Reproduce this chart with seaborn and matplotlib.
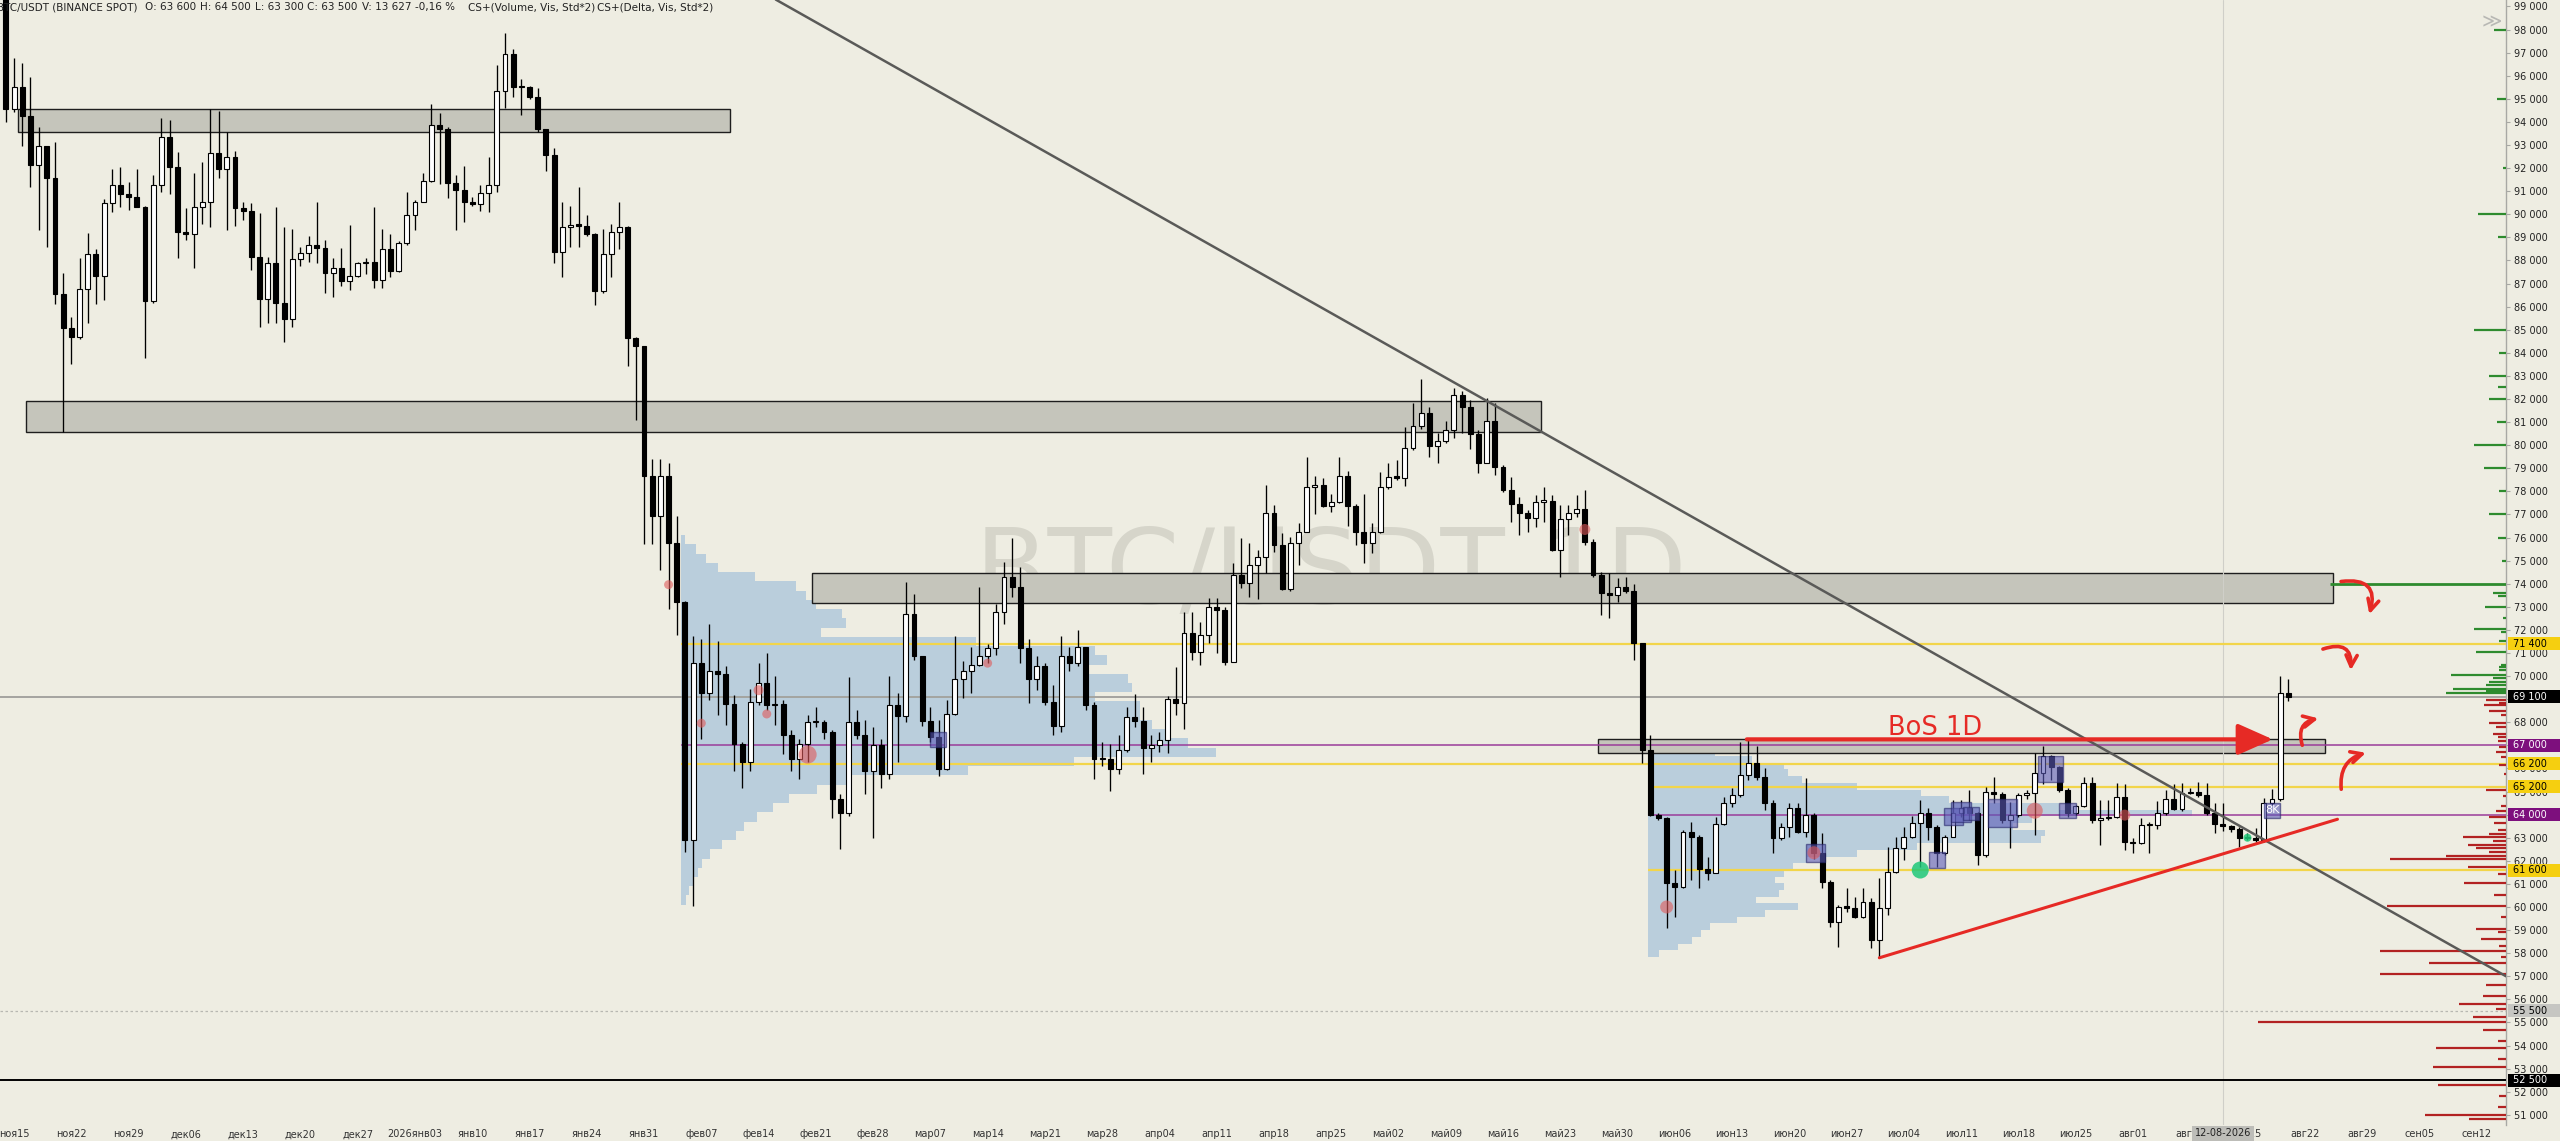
import matplotlib
matplotlib.use("Agg")
import matplotlib.pyplot as plt
import matplotlib.transforms as mtransforms
from matplotlib.patches import Rectangle, FancyArrowPatch
import numpy as np
import pandas as pd
import seaborn as sns

# ---------------------------------------------------------------------------
# Data: BTC/USDT daily candles, prices in thousands of USDT.
# Opens equal the previous close (24/7 market), only the first one is given.
# ---------------------------------------------------------------------------
start_date = "2025-11-14"
first_open = 100.3

close_k = [
    94.55, 95.53, 94.26, 92.13, 92.96, 91.56, 86.55, 85.06, 84.67, 86.75,
    88.28, 87.33, 90.47, 91.27, 90.86, 90.74, 90.33, 86.26, 91.27, 93.36,
    92.06, 89.25, 89.13, 90.33, 90.55, 92.67, 91.95, 92.47, 90.26, 90.14,
    88.14, 86.33, 87.87, 86.15, 85.45, 88.05, 88.34, 88.67, 88.53, 87.44,
    87.66, 87.12, 87.33, 87.87, 87.95, 87.15, 88.48, 87.56, 88.74, 89.97,
    90.55, 91.46, 93.87, 93.68, 91.34, 91.05, 90.52, 90.46, 90.94, 91.27,
    95.35, 96.94, 95.53, 95.50, 95.07, 93.68, 92.57, 88.35, 89.46, 89.54,
    89.50, 89.15, 86.68, 88.28, 89.25, 89.45, 84.66, 84.28, 78.68, 76.94,
    78.68, 75.77, 73.20, 62.90, 70.56, 69.28, 70.24, 70.07, 68.79, 67.05,
    66.30, 68.86, 69.70, 68.75, 68.80, 67.47, 66.40, 67.05, 68.00, 68.00,
    67.58, 64.67, 64.07, 68.00, 67.47, 65.88, 67.00, 65.77, 68.75, 68.28,
    72.68, 70.88, 68.07, 67.37, 65.98, 68.37, 69.86, 70.20, 70.50, 70.88,
    71.20, 72.79, 74.28, 73.85, 71.20, 69.86, 70.45, 68.86, 67.86, 70.88,
    70.56, 71.26, 68.75, 66.41, 66.40, 65.98, 66.80, 68.22, 68.07, 66.88,
    67.00, 67.23, 68.99, 68.85, 71.85, 71.06, 71.78, 73.00, 72.86, 70.63,
    74.38, 74.05, 74.81, 75.17, 77.05, 75.68, 73.76, 75.78, 76.25, 78.20,
    78.28, 77.37, 77.55, 78.67, 77.37, 76.25, 75.78, 76.25, 78.20, 78.64,
    78.60, 79.86, 80.83, 81.38, 79.97, 80.20, 80.66, 82.17, 81.67, 80.49,
    79.24, 81.06, 79.04, 78.06, 77.45, 77.05, 76.83, 77.55, 77.60, 75.46,
    76.79, 77.05, 77.24, 75.82, 74.38, 73.58, 73.52, 73.84, 73.70, 71.42,
    66.80, 64.00, 63.85, 61.05, 60.88, 63.26, 63.05, 61.63, 61.49, 63.60,
    64.49, 64.85, 65.72, 66.25, 65.64, 64.49, 62.97, 63.45, 64.27, 63.26,
    63.98, 62.32, 61.10, 59.36, 60.01, 59.97, 59.58, 60.23, 58.57, 59.94,
    61.53, 62.54, 63.05, 63.62, 64.06, 63.48, 62.32, 63.05, 64.06, 64.27,
    64.06, 62.25, 64.99, 64.90, 63.77, 63.98, 64.85, 64.92, 65.79, 66.54,
    66.05, 65.07, 64.06, 64.37, 65.36, 63.77, 63.84, 63.90, 64.78, 62.83,
    62.76, 63.55, 63.55, 64.06, 64.66, 64.23, 64.92, 65.00, 64.85, 64.06,
    63.60, 63.50, 63.36, 62.97, 62.97, 62.90, 64.50, 64.66, 69.25, 69.10,
]

high_k = [
    100.8, 96.75, 96.54, 95.96, 93.80, 92.96, 93.15, 87.47, 85.57, 88.09,
    89.17, 88.50, 90.66, 91.96, 92.06, 91.40, 91.96, 90.36, 91.70, 94.18,
    94.08, 92.68, 90.26, 91.77, 92.28, 94.55, 94.49, 93.58, 92.76, 90.55,
    90.48, 90.04, 88.16, 90.33, 89.46, 89.35, 88.60, 89.06, 90.55, 88.89,
    88.09, 88.52, 89.54, 87.95, 88.09, 90.33, 89.35, 89.15, 88.86, 90.98,
    90.62, 91.77, 94.78, 94.37, 93.80, 91.70, 92.09, 90.76, 91.27, 92.47,
    96.47, 97.87, 97.14, 95.85, 95.56, 95.46, 93.68, 92.86, 90.55, 90.36,
    91.19, 89.97, 89.17, 89.38, 89.60, 90.55, 89.50, 84.70, 84.28, 79.40,
    79.40, 79.25, 76.94, 73.25, 71.73, 71.62, 72.26, 71.52, 70.45, 69.20,
    67.15, 69.43, 70.55, 70.98, 70.02, 68.95, 67.68, 67.26, 68.32, 68.64,
    68.10, 67.68, 64.91, 69.98, 68.53, 68.10, 67.79, 67.26, 70.02, 69.28,
    74.07, 73.54, 70.88, 68.64, 68.11, 68.96, 71.73, 70.66, 71.26, 73.85,
    71.41, 73.11, 74.92, 75.98, 74.71, 71.62, 70.88, 70.55, 69.60, 71.73,
    71.26, 71.98, 71.26, 68.86, 67.15, 67.05, 67.47, 68.64, 69.22, 68.64,
    67.47, 67.59, 69.15, 70.41, 72.79, 72.79, 72.36, 73.37, 73.37, 73.00,
    74.88, 75.97, 75.75, 75.46, 78.28, 77.41, 76.18, 76.04, 76.62, 79.47,
    78.67, 78.57, 77.89, 79.47, 78.90, 77.45, 77.89, 76.65, 78.85, 79.21,
    79.36, 80.77, 81.81, 82.85, 81.67, 80.54, 81.06, 82.46, 82.36, 81.96,
    80.66, 82.03, 81.84, 79.14, 78.64, 77.77, 77.19, 77.84, 78.20, 77.84,
    77.41, 77.41, 77.84, 78.06, 75.92, 74.52, 74.45, 74.23, 74.31, 73.99,
    71.42, 67.45, 64.08, 63.91, 61.60, 63.33, 63.70, 63.12, 62.18, 63.91,
    64.78, 65.14, 67.16, 67.23, 66.97, 66.00, 64.63, 63.65, 64.52, 64.52,
    65.57, 64.06, 63.19, 61.17, 60.08, 60.81, 60.45, 60.81, 60.37, 61.24,
    62.61, 63.05, 63.45, 63.94, 64.63, 64.27, 63.55, 63.12, 64.63, 64.63,
    65.07, 64.13, 65.21, 65.64, 64.99, 64.56, 64.92, 65.07, 66.65, 66.97,
    66.58, 66.10, 65.14, 64.41, 65.61, 65.64, 64.63, 64.63, 65.36, 65.32,
    62.97, 63.84, 63.69, 64.60, 65.07, 65.32, 65.36, 65.14, 65.43, 65.36,
    64.49, 64.50, 63.55, 63.48, 63.19, 63.41, 64.70, 65.10, 70.00, 69.87,
]

low_k = [
    93.98, 94.45, 92.97, 91.17, 89.32, 88.60, 86.10, 80.58, 83.50, 84.60,
    85.30, 86.10, 86.29, 90.10, 90.33, 90.18, 90.30, 83.79, 86.15, 90.95,
    90.88, 88.09, 88.89, 87.66, 89.56, 89.46, 91.56, 89.32, 89.49, 89.75,
    87.59, 85.10, 85.30, 85.30, 84.48, 85.10, 87.76, 87.95, 87.87, 86.58,
    86.40, 86.90, 86.72, 87.27, 87.41, 86.79, 86.79, 87.30, 87.52, 88.67,
    89.32, 90.55, 91.41, 91.30, 90.69, 89.32, 89.68, 90.37, 90.16, 90.10,
    90.98, 94.59, 95.10, 94.30, 94.98, 93.58, 91.89, 87.90, 87.30, 88.60,
    88.60, 89.08, 86.08, 86.60, 87.30, 88.50, 83.43, 81.10, 75.70, 75.70,
    74.60, 72.90, 71.80, 62.37, 60.03, 67.26, 68.95, 68.30, 67.90, 65.87,
    65.14, 65.87, 68.74, 68.54, 67.90, 66.62, 65.87, 65.56, 66.30, 67.80,
    67.26, 63.86, 62.50, 63.96, 67.26, 64.91, 63.00, 65.14, 65.56, 66.30,
    68.00, 70.68, 67.86, 67.15, 65.67, 65.94, 68.32, 69.07, 69.28, 70.45,
    70.55, 70.92, 72.26, 73.43, 70.55, 68.85, 69.39, 68.75, 67.47, 67.58,
    70.24, 70.45, 68.53, 65.56, 66.09, 65.03, 65.77, 66.73, 67.79, 65.77,
    66.30, 66.72, 66.65, 68.32, 67.73, 70.70, 70.48, 71.42, 70.99, 70.48,
    70.63, 73.80, 73.44, 73.33, 74.45, 75.39, 73.73, 73.70, 74.81, 76.25,
    77.02, 77.34, 77.12, 77.51, 76.50, 75.68, 74.88, 75.32, 76.21, 78.09,
    78.49, 78.23, 79.79, 80.69, 79.50, 79.21, 80.11, 80.30, 80.51, 79.82,
    78.81, 79.21, 78.71, 77.99, 76.69, 76.11, 76.26, 76.47, 76.69, 75.43,
    74.31, 76.11, 76.90, 75.68, 74.31, 72.65, 72.50, 73.22, 73.58, 70.70,
    66.22, 63.96, 63.77, 59.07, 59.58, 60.81, 61.17, 60.81, 61.17, 61.46,
    63.55, 64.34, 64.78, 65.50, 65.50, 64.20, 62.32, 62.90, 63.02, 63.19,
    63.05, 62.10, 60.81, 59.12, 58.28, 59.80, 59.51, 59.51, 58.21, 57.80,
    59.65, 61.46, 62.03, 62.97, 61.75, 62.90, 61.75, 62.25, 63.05, 63.91,
    63.77, 61.82, 62.18, 64.49, 63.65, 62.54, 63.91, 64.66, 63.12, 65.32,
    65.50, 64.99, 63.91, 63.98, 64.34, 63.62, 62.68, 63.77, 63.84, 62.47,
    62.32, 62.72, 62.32, 63.36, 63.98, 64.20, 64.17, 64.89, 64.78, 63.98,
    63.19, 63.30, 63.26, 62.58, 62.90, 62.83, 62.80, 64.40, 64.60, 68.90,
]

# volume profiles (price level, bar length in days)
vp1_price = [75.9, 75.5, 75.1, 74.7, 74.3, 73.9, 73.5, 73.1, 72.7, 72.3,
             71.9, 71.5, 71.1, 70.7, 70.3, 69.9, 69.5, 69.1, 68.7, 68.3,
             67.9, 67.5, 67.1, 66.7, 66.3, 65.9, 65.5, 65.1, 64.7, 64.3,
             63.9, 63.5, 63.1, 62.7, 62.3, 61.9, 61.5, 61.1, 60.7, 60.3]
vp1_len = [0.5, 1.8, 3.0, 4.5, 9.0, 14.0, 15.2, 16.5, 19.6, 20.1,
           17.1, 36.0, 50.6, 52.1, 49.1, 54.6, 55.1, 50.6, 56.1, 56.1,
           57.6, 59.1, 62.0, 65.4, 48.0, 35.0, 20.1, 16.6, 13.2, 11.2,
           9.2, 7.7, 6.7, 5.0, 3.5, 2.5, 2.0, 1.5, 1.0, 0.6]
vp2_price = [66.97, 66.68, 66.39, 66.10, 65.81, 65.52, 65.23, 64.94, 64.65, 64.36,
             64.07, 63.78, 63.49, 63.20, 62.91, 62.62, 62.33, 62.04, 61.75, 61.46,
             61.17, 60.88, 60.59, 60.30, 60.01, 59.72, 59.43, 59.14, 58.85, 58.56,
             58.27, 57.98]
vp2_len = [4.2, 8.2, 12.7, 16.6, 17.1, 18.8, 25.6, 33.4, 36.8, 50.3,
           66.5, 46.9, 44.6, 48.6, 48.0, 32.9, 25.6, 19.4, 17.7, 16.6,
           15.5, 16.6, 16.0, 13.2, 18.3, 14.3, 10.9, 7.6, 6.5, 5.4,
           3.7, 1.4]

# delta histogram on the price scale (relative size)
green_lvl = [98.0, 95.0, 92.0, 90.0, 89.0, 85.0, 84.0, 83.0, 82.5, 82.0,
             81.0, 80.0, 79.0, 78.0, 77.0, 76.0, 75.0, 73.6, 73.45, 73.0,
             72.5, 72.05, 71.9, 71.5, 71.05, 70.5, 70.4, 70.25, 70.05, 69.9,
             69.75, 69.6, 69.45, 69.35, 69.25]
green_vol = [12, 9, 3, 28, 8, 32, 7, 17, 8, 17,
             9, 32, 22, 7, 17, 8, 4, 13, 8, 21,
             3, 32, 5, 7, 30, 5, 7, 7, 55, 13,
             17, 20, 53, 20, 60]
red_lvl = [68.98, 68.85, 68.74, 68.47, 68.3, 67.99, 67.8, 67.51, 67.35, 67.19,
           66.95, 66.71, 66.5, 66.15, 65.75, 65.07, 64.8, 64.38, 64.15, 63.9,
           63.65, 63.34, 63.18, 63.02, 62.86, 62.7, 62.54, 62.38, 62.22, 62.09,
           61.74, 61.42, 61.02, 60.54, 60.06, 59.58, 59.06, 58.9, 58.62, 58.3,
           58.09, 57.85, 57.57, 57.09, 56.61, 56.13, 55.81, 55.57, 55.25, 55.0,
           54.69, 54.21, 53.89, 53.41, 53.09, 52.28, 51.8, 51.32, 51.0, 50.8]
red_vol = [20, 7, 22, 17, 5, 17, 10, 13, 8, 8,
           7, 10, 5, 7, 2, 20, 3, 5, 10, 17,
           12, 8, 17, 43, 13, 38, 30, 17, 60, 116,
           38, 8, 42, 12, 119, 5, 30, 8, 25, 7,
           126, 5, 77, 126, 20, 23, 47, 10, 33, 248,
           23, 8, 70, 8, 73, 68, 7, 8, 81, 37]

# supply / demand zones (day from, day to, low, high)
zone_d0 = [1.45, 2.4, 98.5, 194.6]
zone_d1 = [88.5, 187.6, 284.5, 283.5]
zone_lo = [93.55, 80.59, 73.18, 66.65]
zone_hi = [94.55, 81.90, 74.45, 67.26]

# horizontal levels
level_price = [71.4, 66.2, 65.2, 61.6, 67.0, 64.0]
level_from = [82.55, 82.55, 200.7, 200.7, 82.55, 200.7]
level_kind = ["y", "y", "y", "y", "p", "p"]
last_price = 69.1
black_level = 52.5
dotted_level = 55.5
green_level, green_level_from = 74.0, 284.1

# trend lines (anchor day, anchor price)
down_trend_day, down_trend_price = [94.1, 305.6], [99.3, 57.0]
up_trend_day, up_trend_price = [229.0, 285.0], [57.8, 63.8]
bos_from, bos_to, bos_price = 212.8, 277.1, 67.26

# cluster markers
red_dot_day = [81, 85, 92, 93, 98, 120, 193, 203, 221, 248, 259]
red_dot_price = [73.96, 67.96, 69.39, 68.36, 66.6, 70.56, 76.35, 60.0, 62.35, 64.17, 63.98]
red_dot_diam = [9, 9, 10, 9, 18, 9, 11, 13, 13, 16, 11]
green_dot_day = [234, 274]
green_dot_price = [61.6, 63.0]
green_dot_diam = [17, 8]
box_d0 = [113.0, 220.0, 235.1, 236.9, 237.8, 239.2, 242.3, 248.4, 251.0, 276.0]
box_d1 = [114.9, 222.3, 237.0, 239.2, 240.2, 241.2, 245.8, 251.4, 253.0, 278.0]
box_lo = [66.94, 61.96, 61.70, 63.55, 63.69, 63.77, 63.45, 65.43, 63.84, 63.84]
box_hi = [67.58, 62.73, 62.40, 64.27, 64.56, 64.35, 64.66, 66.54, 64.49, 64.52]

# hand drawn arrows at the right (start day, start price, end day, end price)
sq_d0 = [285.1, 282.9, 280.8, 285.5]
sq_p0 = [74.08, 71.13, 66.89, 64.98]
sq_d1 = [288.8, 286.6, 283.0, 288.8]
sq_p1 = [72.56, 70.13, 68.19, 66.71]

# axis labels
tick_dates = pd.date_range("2025-11-15", "2026-09-12", freq="7D")
tick_labels = ["ноя15", "ноя22", "ноя29", "дек06", "дек13", "дек20", "дек27",
               "2026янв03", "янв10", "янв17", "янв24", "янв31", "фев07", "фев14",
               "фев21", "фев28", "мар07", "мар14", "мар21", "мар28", "апр04",
               "апр11", "апр18", "апр25", "май02", "май09", "май16", "май23",
               "май30", "июн06", "июн13", "июн20", "июн27", "июл04", "июл11",
               "июл18", "июл25", "авг01", "авг08", "авг15", "авг22", "авг29",
               "сен05", "сен12"]
price_ticks = list(range(51, 100))
cursor_date = "2026-08-12"
header_parts = ["BTC/USDT (BINANCE SPOT)", "O: 63 600", "H: 64 500", "L: 63 300",
                "C: 63 500", "V: 13 627", "-0,16 %", "CS+(Volume, Vis, Std*2)",
                "CS+(Delta, Vis, Std*2)"]
header_px = [-3, 145, 200, 255, 307, 362, 415, 468, 597]

# ---------------------------------------------------------------------------
BG = "#EEEDE2"
YELLOW = "#F2D54A"
PURPLE = "#9A3C9A"
RED = "#E62A25"
PX_PER_DAY = 8.18
W, H = 2560, 1141

sns.set_theme(style="white", rc={"axes.facecolor": BG, "figure.facecolor": BG})
plt.rcParams["font.family"] = ["DejaVu Sans"]

fig = plt.figure(figsize=(W / 100, H / 100), dpi=100)
ax = fig.add_axes([0, 16 / H, 2506 / W, 1125 / H])
ax.set_facecolor(BG)
XMIN, XMAX = -0.725, 305.6
ax.set_xlim(XMIN, XMAX)
ax.set_ylim(50.558, 99.2815)

t0 = pd.Timestamp(start_date)
x = np.arange(len(close_k))
close = np.array(close_k)
opn = np.r_[first_open, close[:-1]]
high = np.array(high_k)
low = np.array(low_k)

# volume profiles
ax.barh(vp1_price, vp1_len, height=0.4, left=82.55, color="#BACEDC", lw=0, zorder=1)
ax.barh(vp2_price, vp2_len, height=0.29, left=200.7, color="#BACEDC", lw=0, zorder=1)

# watermark
ax.text(162.0, 73.12, "BTC/USDT 1D", fontsize=76, color="#76766c", alpha=0.2,
        ha="center", va="baseline", zorder=0.5)

# zones
for d0, d1, lo, hi in zip(zone_d0, zone_d1, zone_lo, zone_hi):
    ax.add_patch(Rectangle((d0, lo), d1 - d0, hi - lo, fc="#C5C5BB", ec="#1e1e1e",
                           lw=1.0, zorder=2))

# levels
for p, d0, k in zip(level_price, level_from, level_kind):
    ax.hlines(p, d0, XMAX, color=YELLOW if k == "y" else PURPLE,
              lw=1.6 if k == "y" else 1.1, zorder=3)
ax.axhline(last_price, color="#A4A4A0", lw=1.4, zorder=2.6)
ax.axhline(black_level, color="black", lw=1.4, zorder=3)
ax.axhline(dotted_level, color="#B8B8B2", lw=0.9, ls=(0, (2, 2)), zorder=3)
ax.hlines(green_level, green_level_from, XMAX, color="#2E8B2E", lw=2.0, zorder=3)
cursor_x = (pd.Timestamp(cursor_date) - t0).days
ax.axvline(cursor_x, color="#CFCFC8", lw=0.8, zorder=2.5)

# delta histogram at the price scale
ax.hlines(green_lvl, XMAX - np.array(green_vol) / PX_PER_DAY, XMAX,
          color="#2E8B2E", lw=1.6, zorder=3)
ax.hlines(red_lvl, XMAX - np.array(red_vol) / PX_PER_DAY, XMAX,
          color="#B22222", lw=1.6, zorder=3)

# candles
ax.vlines(x, low, high, color="black", lw=0.95, zorder=4)
bottoms = np.minimum(opn, close)
heights = np.maximum(np.abs(close - opn), 0.06)
body_col = np.where(close >= opn, "white", "black")
ax.bar(x, heights, bottom=bottoms, width=0.6, color=body_col, edgecolor="black",
       linewidth=0.8, zorder=5)

# cluster boxes and dots
for d0, d1, lo, hi in zip(box_d0, box_d1, box_lo, box_hi):
    ax.add_patch(Rectangle((d0, lo), d1 - d0, hi - lo, fc="#5B5BB8", ec="#26266a",
                           alpha=0.6, lw=1.0, zorder=6))
ax.text(277.0, 64.18, "8K", fontsize=8, color="white", ha="center", va="center", zorder=7)
sns.scatterplot(x=red_dot_day, y=red_dot_price, s=(np.array(red_dot_diam) / 1.389) ** 2,
                color="#E05A5A", alpha=0.6, linewidth=0, ax=ax, legend=False, zorder=6)
sns.scatterplot(x=green_dot_day, y=green_dot_price, s=(np.array(green_dot_diam) / 1.389) ** 2,
                color="#1EC878", alpha=0.85, linewidth=0, ax=ax, legend=False, zorder=6)

# trend lines
ax.plot(down_trend_day, down_trend_price, color="#5A5A58", lw=1.8, zorder=6)
ax.plot(up_trend_day, up_trend_price, color=RED, lw=2.2, zorder=6)

# BoS arrow
ax.annotate("", xy=(bos_to, bos_price), xytext=(bos_from, bos_price),
            arrowprops=dict(arrowstyle="-|>,head_length=1.8,head_width=0.8", lw=3,
                            color=RED, shrinkA=0, shrinkB=0), zorder=7)
ax.text(235.85, 67.45, "BoS 1D", fontsize=18.5, color=RED, ha="center",
        va="baseline", zorder=7)

# squiggly arrows
for a, b, c, d, r in zip(sq_d0, sq_p0, sq_d1, sq_p1, [-0.8, -0.8, -0.6, -0.45]):
    ax.add_patch(FancyArrowPatch((a, b), (c, d), connectionstyle=f"arc3,rad={r}",
                                 arrowstyle="->", mutation_scale=20, lw=2.6,
                                 color=RED, zorder=7))

# axes styling
for s in ["top", "left", "bottom"]:
    ax.spines[s].set_visible(False)
ax.spines["right"].set_color("#A8A8A4")
ax.spines["right"].set_linewidth(1.0)
ax.yaxis.tick_right()
ax.set_yticks(price_ticks)
ax.set_yticklabels([f"{t} 000" for t in price_ticks])
ax.tick_params(axis="y", length=3, width=0.8, color="#A8A8A4", pad=3,
               labelsize=7, labelcolor="#222222")
ax.set_xticks([(d - t0).days for d in tick_dates])
ax.set_xticklabels(tick_labels)
ax.tick_params(axis="x", length=2, width=0.8, color="#B0B0AA", pad=1,
               labelsize=7, labelcolor="#333333")

# highlighted price labels on the scale
label_tr = mtransforms.blended_transform_factory(ax.transAxes, ax.transData)
hl = [(71.4, "#F5CF10", "black"), (69.1, "black", "white"), (67.0, "#7D0F7D", "white"),
      (66.2, "#F5CF10", "black"), (65.2, "#F5CF10", "black"), (64.0, "#7D0F7D", "white"),
      (61.6, "#F5CF10", "black"), (55.5, "#C6C6C2", "black"), (52.5, "black", "white")]
bh = 13 * 0.04331
for p, fc, tc in hl:
    ax.add_patch(Rectangle((1.0006, p - bh / 2), 0.03, bh, fc=fc, ec="none",
                           transform=label_tr, clip_on=False, zorder=30))
    ax.text(1.0028, p, f"{p * 1000:,.0f}".replace(",", " "), fontsize=7, color=tc,
            ha="left", va="center", transform=label_tr, clip_on=False, zorder=31)

# cursor date box (covers the neighbouring date labels, as on the terminal)
date_tr = mtransforms.blended_transform_factory(ax.transData, ax.transAxes)
ax.text(cursor_x, -0.0075, pd.Timestamp(cursor_date).strftime("%d-%m-%Y"), fontsize=7,
        color="#222222", ha="center", va="center", transform=date_tr, clip_on=False,
        zorder=30, bbox=dict(boxstyle="square,pad=0.25", fc="#BDBDB8", ec="none"))

# header
for part, px in zip(header_parts, header_px):
    fig.text(px / W, 1 - 7 / H, part, fontsize=7.5, color="#222222", ha="left", va="center")
fig.text(2492 / W, 1 - 22 / H, "≫", fontsize=14, color="#B8B8B4", ha="center", va="center")

fig.savefig("out.png", dpi=100, facecolor=BG)
